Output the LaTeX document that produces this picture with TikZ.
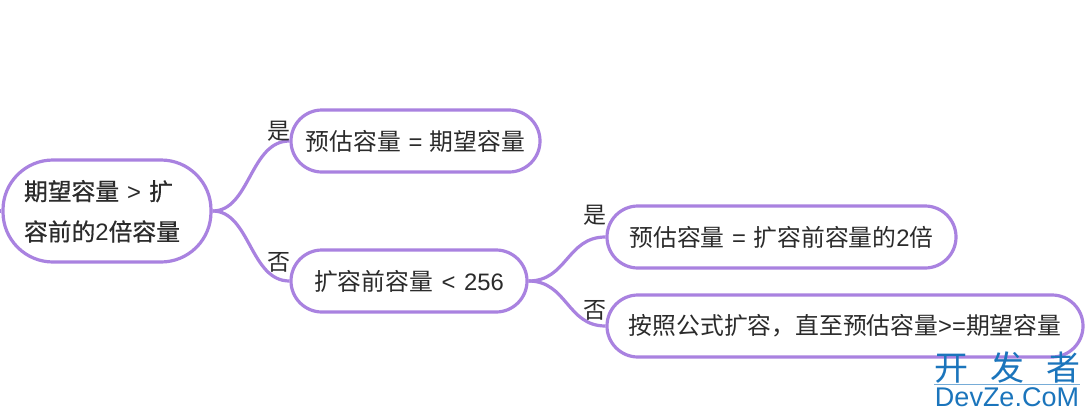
\documentclass[tikz,border=0pt]{standalone}
\usepackage{fontspec}
\setmainfont{Liberation Sans}
\newfontfamily\cjk{Noto Sans CJK SC}
\newfontfamily\cjkb{Noto Sans CJK SC}[FakeBold=0.6]
\newfontfamily\wm{Liberation Sans}
\definecolor{purp}{HTML}{A982E0}
\definecolor{ink}{HTML}{2B2B2B}
\definecolor{wmblue}{HTML}{1B75BC}
\tikzset{
  box/.style={draw=purp,line width=3.2pt,rounded corners=31pt,fill=white,minimum height=62pt,inner sep=0pt,text=ink,font=\fontsize{23.8}{24}\selectfont\cjk},
  link/.style={draw=purp,line width=3.2pt},
  lbl/.style={text=ink,inner sep=0pt,font=\fontsize{23}{23}\selectfont\cjk},
}
\begin{document}
\begin{tikzpicture}[x=1pt,y=-1pt]
\useasboundingbox (0,0) rectangle (1090,418);
\fill[white] (0,0) rectangle (1090,418);
\coordinate (stub) at (0,211);
\node[box,rounded corners=50pt,minimum width=208pt,minimum height=102pt,font=\fontsize{23.8}{24}\selectfont\cjkb] (root) at (107,211) {\begin{tabular}{@{}l@{}}\rule{0pt}{26pt}期望容量\hspace{8pt}{\wm >}\hspace{8pt}扩\\[13pt]容前的{\wm 2}倍容量\end{tabular}\rule{10pt}{0pt}};
\node[box,minimum width=249pt] (yes1) at (415.5,141) {预估容量\hspace{7.5pt}{\wm =}\hspace{7.5pt}期望容量};
\node[box,minimum width=236pt] (no1) at (409,281) {扩容前容量\hspace{8.5pt}{\wm <}\hspace{8.5pt}{\wm 256}};
\node[box,minimum width=349pt] (yes2) at (781.5,237) {预估容量\hspace{7.5pt}{\wm =}\hspace{7.5pt}扩容前容量的{\wm 2}倍};
\node[box,minimum width=476pt] (no2) at (845,326) {按照公式扩容，直至预估容量{\wm >=}期望容量};
\draw[link] (stub) -- (root.west);
\draw[link] (root.east) .. controls (250,211) and (250,141) .. (yes1.west);
\draw[link] (root.east) .. controls (250,211) and (250,281) .. (no1.west);
\draw[link] (no1.east) .. controls (567,281) and (567,237) .. (yes2.west);
\draw[link] (no1.east) .. controls (567,281) and (567,326) .. (no2.west);
\node[lbl] (l1) at (279,131) {是};
\node[lbl] (l2) at (279,262) {否};
\node[lbl] (l3) at (595,215) {是};
\node[lbl] (l4) at (595,310) {否};
\node[inner sep=0pt,text=wmblue,font=\fontsize{34}{34}\selectfont\cjk] (w1) at (1007,368) {开\hspace{22pt}发\hspace{22pt}者};
\node[inner sep=0pt,text=wmblue,font=\fontsize{27}{27}\selectfont\wm] (w2) at (1007,397) {DevZe.CoM};
\coordinate (wa) at (934,384);
\coordinate (wb) at (1080,384);
\draw[draw=wmblue!60,line width=0.8pt] (wa) -- (wb);
\end{tikzpicture}
\end{document}
